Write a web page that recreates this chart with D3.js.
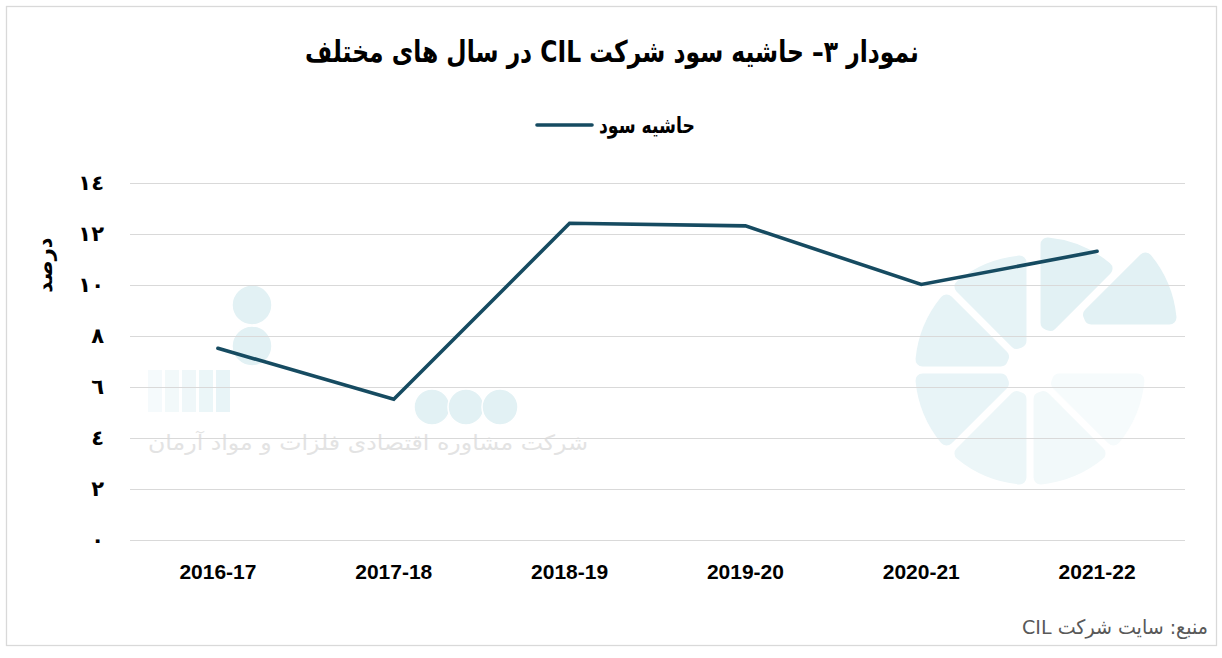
<!DOCTYPE html>
<html>
<head>
<meta charset="utf-8">
<script src="https://cdn.jsdelivr.net/npm/d3@7"></script>
<style>
  html, body { margin: 0; padding: 0; background: #ffffff; }
  svg { display: block; }
</style>
</head>
<body>
<div id="chart"></div>
<script>
// ---- data ----
const categories = ["2016-17", "2017-18", "2018-19", "2019-20", "2020-21", "2021-22"];
const profitMargin = [7.5, 5.5, 12.4, 12.3, 10.0, 11.3];
const yTickValues = [0, 2, 4, 6, 8, 10, 12, 14];
const yTickLabels = ["٠", "٢", "٤", "٦", "٨", "١٠", "١٢", "١٤"];
const titleText = "نمودار ٣– حاشیه سود شرکت CIL در سال های مختلف";
const seriesName = "حاشیه سود";
const yAxisTitle = "درصد";
const sourceText = "منبع: سایت شرکت CIL";
const watermarkText = "شرکت مشاوره اقتصادی فلزات و مواد آرمان";

const W = 1222, H = 658;
const arabicFont = "'DejaVu Sans', 'Noto Sans', sans-serif";
const latinFont = "'Liberation Sans', Arial, sans-serif";
const lineColor = "#164b61";

const svg = d3.select("#chart").append("svg")
  .attr("width", W).attr("height", H);

svg.append("rect").attr("width", W).attr("height", H).attr("fill", "#fff");
svg.append("rect")
  .attr("x", 6.5).attr("y", 6.5).attr("width", 1210).attr("height", 639)
  .attr("fill", "none").attr("stroke", "#d9d9d9").attr("stroke-width", 1.3);

const x = d3.scaleBand().domain(categories).range([130, 1185]);
const y = d3.scaleLinear().domain([0, 14]).range([539.5, 182.5]);

// scale text horizontally so that it spans the target width around its anchor
function fitScale(sel, target) {
  const w = sel.node().getComputedTextLength();
  const cx = +sel.attr("x");
  if (w > 0) {
    const sx = target / w;
    sel.attr("transform", `translate(${cx},0) scale(${sx.toFixed(4)},1) translate(${-cx},0)`);
  }
}

// ---- watermark (decorative) ----
const wm = svg.append("g").attr("class", "watermark");
const arc = d3.arc().innerRadius(24).outerRadius(115).padAngle(0.06).cornerRadius(7);
const wedges = d3.range(8).map(i => ({ startAngle: i * Math.PI / 4, endAngle: (i + 1) * Math.PI / 4, i }));
const wedgeOffset = [[7, -18], [32, -42], [0, 0], [0, 0], [0, 0], [0, 0], [0, 0], [0, 0]];
const wedgeColor = ["#e2f1f4", "#e2f1f4", "#f6fbfc", "#f2f9fa", "#ecf6f8", "#e8f4f7", "#e6f3f6", "#e6f3f6"];
wm.selectAll("path.wedge").data(wedges).join("path")
  .attr("class", "wedge")
  .attr("transform", d => `translate(${1030 + wedgeOffset[d.i][0]},${370 + wedgeOffset[d.i][1]})`)
  .attr("d", arc)
  .attr("fill", d => wedgeColor[d.i]);

wm.selectAll("rect.stripe").data(d3.range(5)).join("rect")
  .attr("class", "stripe")
  .attr("x", d => 148 + d * 17).attr("y", 370).attr("width", 14).attr("height", 42)
  .attr("fill", "#e3f2f5").attr("opacity", d => 0.35 + d * 0.12);
wm.selectAll("circle.dot").data([[252, 305, 20], [252, 346, 20], [432, 407, 18], [466, 407, 18], [500, 407, 18]]).join("circle")
  .attr("class", "dot")
  .attr("cx", d => d[0]).attr("cy", d => d[1]).attr("r", d => d[2])
  .attr("fill", "#e2f1f4").attr("stroke", "#fff").attr("stroke-width", 1.5);
const wmt = wm.append("text")
  .attr("x", 368).attr("y", 450).attr("text-anchor", "middle").attr("direction", "rtl")
  .attr("font-family", arabicFont).attr("font-size", 21).attr("fill", "#e3e3e3")
  .text(watermarkText);
fitScale(wmt, 440);

// ---- gridlines ----
svg.append("g").selectAll("line").data(yTickValues).join("line")
  .attr("x1", 130).attr("x2", 1185)
  .attr("y1", d => Math.round(y(d)) + 0.5).attr("y2", d => Math.round(y(d)) + 0.5)
  .attr("stroke", "#d9d9d9").attr("stroke-width", 1);

// ---- y axis labels ----
const yAxis = d3.axisLeft(y).tickValues(yTickValues)
  .tickFormat((d, i) => yTickLabels[i]).tickSize(0).tickPadding(0);
const yg = svg.append("g").attr("transform", "translate(104,0)").call(yAxis);
yg.select(".domain").remove();
yg.selectAll("text")
  .attr("font-family", arabicFont).attr("font-weight", "bold")
  .attr("font-size", 21).attr("fill", "#000").attr("dy", "0.35em");

// ---- x axis labels ----
const xAxis = d3.axisBottom(x).tickSize(0).tickPadding(0);
const xg = svg.append("g").attr("transform", "translate(0,572)").call(xAxis);
xg.select(".domain").remove();
xg.selectAll("text")
  .attr("font-family", latinFont).attr("font-weight", "bold")
  .attr("font-size", 21).attr("fill", "#000").attr("dy", "0.35em");

// ---- y axis title ----
svg.append("text")
  .attr("transform", "translate(45,265) rotate(-90)")
  .attr("text-anchor", "middle").attr("dy", "0.35em").attr("direction", "rtl")
  .attr("font-family", arabicFont).attr("font-weight", "bold").attr("font-size", 21)
  .text(yAxisTitle);

// ---- line ----
const line = d3.line()
  .x((d, i) => x(categories[i]) + x.bandwidth() / 2)
  .y(d => y(d));
svg.append("path").datum(profitMargin)
  .attr("d", line).attr("fill", "none")
  .attr("stroke", lineColor).attr("stroke-width", 3.6)
  .attr("stroke-linecap", "round").attr("stroke-linejoin", "miter");

// ---- title ----
const tt = svg.append("text")
  .attr("x", 612).attr("y", 52).attr("text-anchor", "middle").attr("dy", "0.35em")
  .attr("direction", "rtl")
  .attr("font-family", arabicFont).attr("font-weight", "bold").attr("font-size", 30)
  .attr("fill", "#000")
  .text(titleText);
fitScale(tt, 614);

// ---- legend ----
svg.append("line")
  .attr("x1", 537).attr("x2", 592).attr("y1", 125).attr("y2", 125)
  .attr("stroke", lineColor).attr("stroke-width", 3.6).attr("stroke-linecap", "round");
const lt = svg.append("text")
  .attr("x", 647).attr("y", 125).attr("text-anchor", "middle").attr("dy", "0.35em")
  .attr("direction", "rtl")
  .attr("font-family", arabicFont).attr("font-weight", "bold").attr("font-size", 22)
  .attr("fill", "#000")
  .text(seriesName);
fitScale(lt, 96);

// ---- source ----
const st = svg.append("text")
  .attr("x", 1115).attr("y", 627).attr("text-anchor", "middle").attr("dy", "0.35em")
  .attr("direction", "rtl")
  .attr("font-family", arabicFont).attr("font-size", 20).attr("fill", "#595959")
  .text(sourceText);
fitScale(st, 186);
</script>
</body>
</html>
